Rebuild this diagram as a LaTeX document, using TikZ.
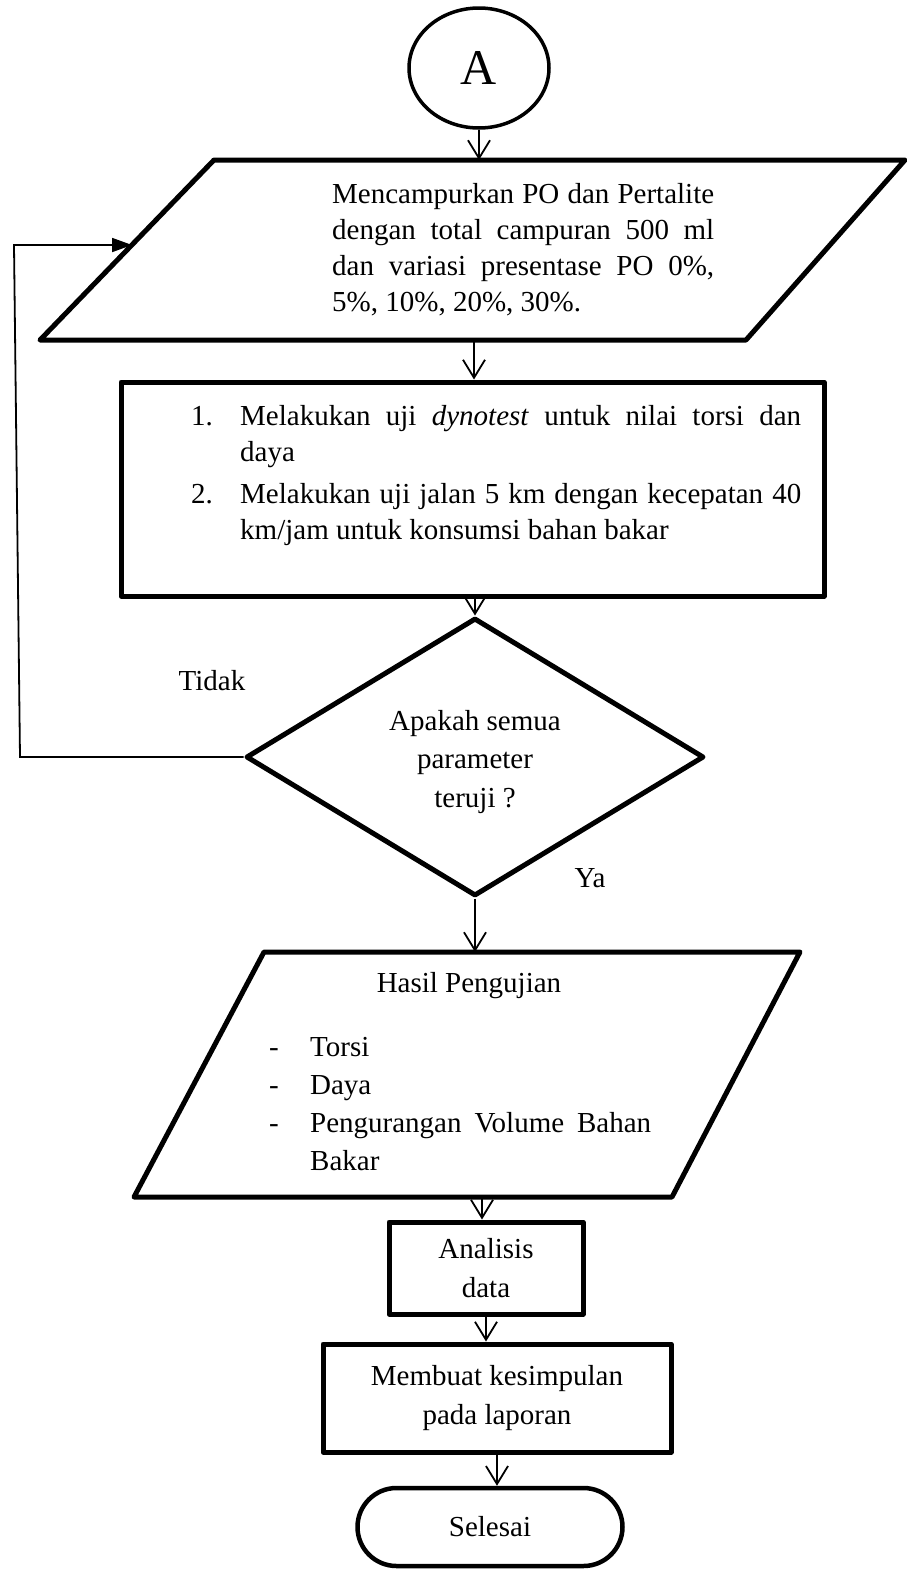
\documentclass[tikz,border=0pt]{standalone}
\usepackage{fontspec}
\setmainfont{Liberation Serif}
\usetikzlibrary{arrows.meta,shapes.geometric,shapes.misc}
\begin{document}
\begin{tikzpicture}[x=1pt,y=-1pt,
  every node/.style={font=\fontsize{29}{36}\selectfont, inner sep=0pt},
  shapebox/.style={draw, line width=5pt, line join=round},
  flow/.style={line width=1.8pt, -{Straight Barb[length=18pt,width=22pt]}},
  back/.style={line width=1.8pt, -{Triangle[length=20pt,width=14pt]}}
]
\useasboundingbox (0,0) rectangle (907,1569);

% Connector A
\node[draw, ellipse, line width=3.5pt, minimum width=140pt, minimum height=120pt] (A) at (479,68) {\fontsize{50}{50}\selectfont A};

% Input 1
\draw[shapebox] (214,160) -- (905,160) -- (746,340) -- (40,340) -- cycle;
\coordinate (p1t) at (479,160);
\coordinate (p1b) at (474,340);
\coordinate (p1l) at (132,245);
\node[text width=382pt, align=justify, anchor=north west] (t1) at (332,183)
  {Mencampurkan PO dan Pertalite dengan total campuran 500 ml dan variasi presentase PO 0\%, 5\%, 10\%, 20\%, 30\%.};

% Process box
\node[shapebox, minimum width=703pt, minimum height=214pt] (b2) at (472.5,489) {};
\node[text width=610pt, align=justify, anchor=north west, font=\fontsize{29}{36}\selectfont] (b2t) at (191,405)
  {\leftskip=49pt
   \noindent\llap{\makebox[49pt][l]{1.}}Melakukan uji \textit{dynotest} untuk nilai torsi dan\linebreak daya\par
   \vspace{6pt}
   \noindent\llap{\makebox[49pt][l]{2.}}Melakukan uji jalan 5 km dengan kecepatan 40\linebreak km/jam untuk konsumsi bahan bakar\par};

% Decision
\node[shapebox, diamond, aspect=1.65, minimum width=458pt, minimum height=278pt] (dec) at (475,757) {};
\node[align=center, font=\fontsize{29}{38.5}\selectfont] (dect) at (475,762) {Apakah semua\\parameter\\teruji ?};
\node (tidak) at (212,681) {Tidak};
\node (ya) at (590,878) {Ya};

% Output
\draw[shapebox] (264,952) -- (800,952) -- (672,1197) -- (134,1197) -- cycle;
\coordinate (p2t) at (475,952);
\coordinate (p2b) at (482,1197);
\node[anchor=base] (hasil) at (469,992) {Hasil Pengujian};
\node[text width=382pt, align=justify, anchor=north west, font=\fontsize{29}{38}\selectfont] (lst) at (269,1037)
  {\leftskip=41pt
   \noindent\llap{\makebox[41pt][l]{-}}Torsi\par
   \noindent\llap{\makebox[41pt][l]{-}}Daya\par
   \noindent\llap{\makebox[41pt][l]{-}}Pengurangan Volume Bahan Bakar\par};

% Analysis
\node[shapebox, minimum width=194pt, minimum height=92pt, align=center, font=\fontsize{29}{39}\selectfont] (an) at (486,1268) {Analisis\\data};
\node[shapebox, minimum width=348pt, minimum height=108pt, align=center, font=\fontsize{29}{39}\selectfont] (mk) at (497,1398) {Membuat kesimpulan\\pada laporan};
\node[draw, rounded rectangle, line width=4.5pt, minimum width=265pt, minimum height=78pt] (sel) at (490,1527) {Selesai};

% Connectors
\draw[flow] (A.south) -- (p1t);
\draw[flow] (p1b) -- (p1b |- b2.north);
\draw[flow] (b2.south -| dec.north) -- (dec.north);
\draw[flow] (dec.south) -- (p2t);
\draw[flow] (p2b) -- (p2b |- an.north);
\draw[flow] (an.south) -- (an.south |- mk.north);
\draw[flow] (mk.south) -- (mk.south |- sel.north);

\coordinate (fb1) at (20,757);
\coordinate (fb2) at (14,245);
\draw[back] (dec.west) -- (fb1) -- (fb2) -- (p1l);
\end{tikzpicture}
\end{document}
